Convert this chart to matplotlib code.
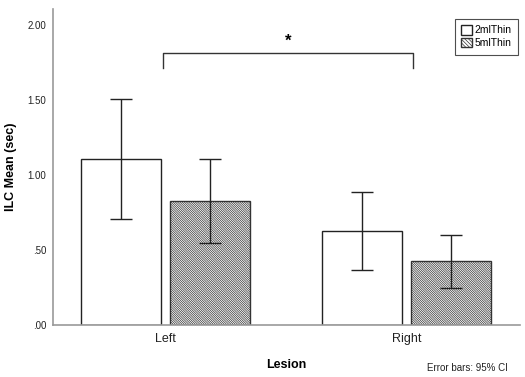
import matplotlib
matplotlib.use("Agg")
import matplotlib.pyplot as plt
import numpy as np
from matplotlib.patches import Patch

plt.rcParams['font.family'] = ['Liberation Sans', 'DejaVu Sans']
plt.rcParams['hatch.linewidth'] = 0.5
plt.rcParams['hatch.color'] = '#222222'

categories = ["Left", "Right"]
series_names = ["2mlThin", "5mlThin"]
means_2ml = [1.11, 0.63]
means_5ml = [0.83, 0.43]
ci_low_2ml = [0.71, 0.37]
ci_high_2ml = [1.51, 0.89]
ci_low_5ml = [0.55, 0.25]
ci_high_5ml = [1.11, 0.60]
yticks = [0.0, 0.5, 1.0, 1.5, 2.0]
ytick_labels = [".00", ".50", "1.00", "1.50", "2.00"]

W, H = 525, 377
fig = plt.figure(figsize=(W / 100, H / 100), dpi=100)
ax_left, ax_right, ax_top, ax_bottom = 53, 520, 9, 325
ax = fig.add_axes([ax_left / W, 1 - ax_bottom / H, (ax_right - ax_left) / W, (ax_bottom - ax_top) / H])

x = np.arange(len(categories))
width = 0.332
off = 0.1846
HATCH = '\\' * 15

m1 = np.array(means_2ml); m2 = np.array(means_5ml)
e1 = [m1 - np.array(ci_low_2ml), np.array(ci_high_2ml) - m1]
e2 = [m2 - np.array(ci_low_5ml), np.array(ci_high_5ml) - m2]

ax.bar(x - off, m1, width, color='white', edgecolor='#222222', linewidth=1.0, zorder=2)
ax.bar(x + off, m2, width, color='white', edgecolor='#333333', hatch=HATCH, linewidth=1.0, zorder=2)
ax.errorbar(x - off, m1, yerr=e1, fmt='none', ecolor='#222222', elinewidth=1.0, capsize=8, capthick=1.0, zorder=3)
ax.errorbar(x + off, m2, yerr=e2, fmt='none', ecolor='#222222', elinewidth=1.0, capsize=8, capthick=1.0, zorder=3)

ax.set_xlim(-0.467, 1.471)
ax.set_ylim(0, 2.107)
ax.set_yticks(yticks)
ax.set_yticklabels(ytick_labels, fontsize=7, color='#222222')
ax.set_xticks(x)
ax.set_xticklabels(categories, fontsize=9, color='#222222')
ax.tick_params(axis='both', length=0, pad=6)
ax.tick_params(axis='y', pad=5)
for s in ['top', 'right']:
    ax.spines[s].set_visible(False)
for s in ['left', 'bottom']:
    ax.spines[s].set_color('#999999')
    ax.spines[s].set_linewidth(1.2)

ax.set_ylabel("ILC Mean (sec)", fontsize=9, fontweight='bold')
ax.yaxis.set_label_coords((17 - ax_left) / (ax_right - ax_left), 0.5)
ax.set_xlabel("Lesion", fontsize=9, fontweight='bold', labelpad=10)

# significance bracket
bx0, bx1 = -off + width / 2 + 0.008, 1 + off - width / 2 + 0.01
ax.plot([bx0, bx0, bx1, bx1], [1.713, 1.813, 1.813, 1.713], color='#333333', lw=1.0, clip_on=False)
ax.text((bx0 + bx1) / 2, 1.895, "*", ha='center', va='center', fontsize=12, fontweight='bold')

handles = [Patch(facecolor='white', edgecolor='#222222', label=series_names[0]),
           Patch(facecolor='white', edgecolor='#333333', hatch='\\' * 9, label=series_names[1])]
leg = fig.legend(handles=handles, loc='upper right', bbox_to_anchor=(518 / W, 1 - 19 / H),
                 fontsize=7.5, frameon=True, fancybox=False, edgecolor='#222222',
                 handlelength=1.0, handleheight=1.0, handletextpad=0.3, borderpad=0.6,
                 labelspacing=0.25, borderaxespad=0)
leg.get_frame().set_linewidth(0.8)

fig.text(508 / W, 1 - 368 / H, "Error bars: 95% CI", ha='right', va='center', fontsize=7, color='#222222')

fig.savefig("out.png", dpi=100)
